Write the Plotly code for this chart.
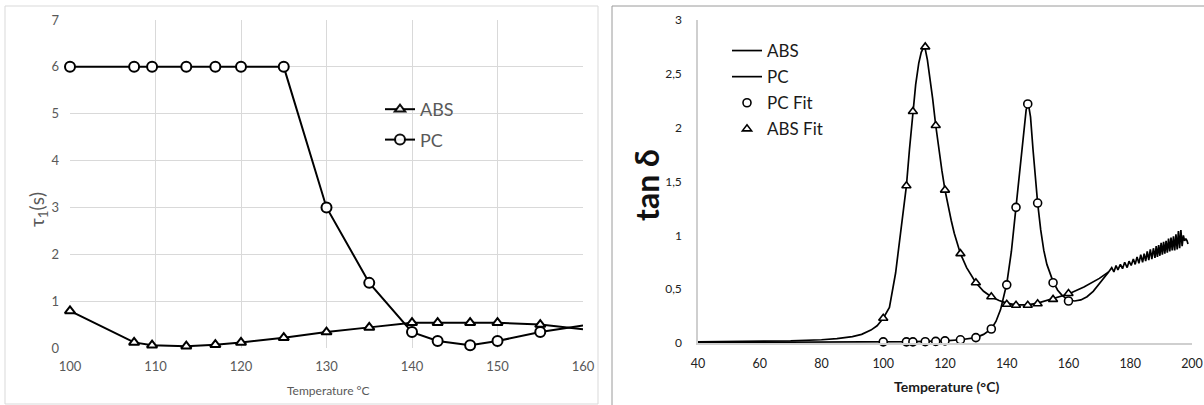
import plotly.graph_objects as go

W, H = 1204, 405

# ---------------- data ----------------
TEMPS = [100, 107.5, 109.6, 113.6, 117, 120, 125, 130, 135, 140, 143, 146.8, 150, 155, 160]

# left panel: relaxation time tau_1 (s)
ABS_TAU = [0.79, 0.12, 0.06, 0.04, 0.07, 0.12, 0.22, 0.34, 0.44, 0.54, 0.54, 0.54, 0.54, 0.50, 0.40]
PC_TAU = [6, 6, 6, 6, 6, 6, 6, 3.0, 1.39, 0.34, 0.15, 0.06, 0.15, 0.34, 0.48]

# right panel: measured tan delta curves
ABS_T = [40, 50, 60, 70, 80, 85, 90, 93, 96, 98, 100, 102, 104, 106, 107.5, 108.5, 109.6,
         110.5, 111.5, 112.3, 113, 113.6, 114.3, 115, 116, 117, 118, 119, 120, 121, 122,
         123, 124, 125, 127, 130, 132.5, 135, 137.5, 140, 143, 146.8, 150, 155, 160, 165,
         170]
ABS_TAN = [0.01, 0.012, 0.015, 0.02, 0.03, 0.04, 0.06, 0.08, 0.12, 0.16, 0.23, 0.33, 0.65,
           1.10, 1.46, 1.80, 2.15, 2.40, 2.60, 2.70, 2.74, 2.73, 2.63, 2.50, 2.27, 2.02, 1.80,
           1.60, 1.42, 1.27, 1.14, 1.02, 0.92, 0.83, 0.70, 0.56, 0.48, 0.43, 0.395, 0.37,
           0.355, 0.355, 0.37, 0.41, 0.455, 0.52, 0.60]

PC_T = [40, 60, 80, 100, 110, 120, 125, 130, 132.5, 135, 136.5, 138, 139, 140, 141.5, 143,
        144.5, 145.5, 146.3, 147, 147.7, 148.5, 149.3, 150, 151, 152, 153, 154, 155, 156.5,
        158, 160, 162, 164, 166, 168, 170, 171.5, 173]
PC_TAN = [0.005, 0.006, 0.008, 0.01, 0.012, 0.02, 0.03, 0.05, 0.08, 0.13, 0.20, 0.31, 0.42,
          0.55, 0.85, 1.26, 1.70, 2.00, 2.17, 2.22, 2.10, 1.80, 1.52, 1.30, 1.05, 0.86, 0.73,
          0.64, 0.57, 0.49, 0.44, 0.40, 0.39, 0.40, 0.43, 0.48, 0.55, 0.61, 0.66]

# merged, noisy high-temperature part of the measured curves
TAIL_T = [173, 174, 174.7, 175.4, 176, 176.8, 177.5, 178.2, 179, 179.6, 180.3, 181, 181.6,
          182.2, 182.8, 183.4, 184, 184.5, 185, 185.5, 186, 186.5, 187, 187.5, 188, 188.4,
          188.8, 189.2, 189.6, 190, 190.4, 190.8, 191.2, 191.6, 192, 192.4, 192.8, 193.2,
          193.6, 194, 194.4, 194.8, 195.2, 195.6, 196, 196.4, 196.8, 197.2, 197.6, 198,
          198.4, 198.7]
TAIL_TAN = [0.66, 0.70, 0.66, 0.72, 0.68, 0.73, 0.69, 0.75, 0.70, 0.76, 0.72, 0.78, 0.73,
            0.80, 0.74, 0.82, 0.75, 0.83, 0.76, 0.85, 0.77, 0.87, 0.78, 0.88, 0.79, 0.90,
            0.80, 0.91, 0.81, 0.93, 0.82, 0.94, 0.83, 0.95, 0.84, 0.97, 0.85, 0.98, 0.86,
            0.99, 0.86, 1.01, 0.87, 1.04, 0.88, 1.05, 0.90, 1.00, 0.95, 0.97, 0.95, 0.92]

# model fits at the same temperatures
ABS_FIT = [0.23, 1.46, 2.15, 2.75, 2.02, 1.42, 0.83, 0.56, 0.43, 0.36, 0.35, 0.35, 0.365, 0.405, 0.46]
PC_FIT = [0.01, 0.01, 0.01, 0.012, 0.015, 0.02, 0.03, 0.05, 0.13, 0.54, 1.26, 2.22, 1.30, 0.56, 0.39]

LEFT_XTICKS = [100, 110, 120, 130, 140, 150, 160]
LEFT_YTICKS = [0, 1, 2, 3, 4, 5, 6, 7]
RIGHT_XTICKS = [40, 60, 80, 100, 120, 140, 160, 180, 200]
RIGHT_YTICKS = [0, 0.5, 1, 1.5, 2, 2.5, 3]
RIGHT_YLABELS = ["0", "0,5", "1", "1,5", "2", "2,5", "3"]

# ---------------- helpers ----------------
def px_x(p):
    return p / W

def px_y(p):
    return (H - p) / H

FONT = "Lato"
GRAY = "#595959"

fig = go.Figure()

# left panel traces (last point has no visible marker)
left_op = [1] * (len(TEMPS) - 1) + [0]
fig.add_trace(go.Scatter(
    x=TEMPS, y=ABS_TAU, name="ABS", mode="lines+markers", xaxis="x", yaxis="y",
    line=dict(color="black", width=2),
    marker=dict(symbol="triangle-up", size=9, color="white", opacity=left_op,
                line=dict(color="black", width=2)),
    cliponaxis=False, legend="legend", legendgroup="a"))
fig.add_trace(go.Scatter(
    x=TEMPS, y=PC_TAU, name="PC", mode="lines+markers", xaxis="x", yaxis="y",
    line=dict(color="black", width=2),
    marker=dict(symbol="circle", size=10, color="white", opacity=left_op,
                line=dict(color="black", width=2)),
    cliponaxis=False, legend="legend", legendgroup="b"))

# right panel traces
fig.add_trace(go.Scatter(
    x=ABS_T + TAIL_T, y=ABS_TAN + TAIL_TAN, name="ABS", mode="lines",
    xaxis="x2", yaxis="y2", line=dict(color="black", width=1.7),
    legend="legend2", legendgroup="c"))
fig.add_trace(go.Scatter(
    x=PC_T, y=PC_TAN, name="PC", mode="lines",
    xaxis="x2", yaxis="y2", line=dict(color="black", width=1.7),
    legend="legend2", legendgroup="d"))
fig.add_trace(go.Scatter(
    x=TEMPS, y=PC_FIT, name="PC Fit", mode="markers", xaxis="x2", yaxis="y2",
    marker=dict(symbol="circle", size=8, color="white", line=dict(color="black", width=1.6)),
    cliponaxis=False, legend="legend2", legendgroup="e"))
fig.add_trace(go.Scatter(
    x=TEMPS, y=ABS_FIT, name="ABS Fit", mode="markers", xaxis="x2", yaxis="y2",
    marker=dict(symbol="triangle-up", size=8, color="white", line=dict(color="black", width=1.6)),
    cliponaxis=False, legend="legend2", legendgroup="f"))

fig.update_layout(
    template="none",
    width=W, height=H,
    margin=dict(l=0, r=0, t=0, b=0, pad=0, autoexpand=False),
    paper_bgcolor="white", plot_bgcolor="white",
    font=dict(family=FONT, color=GRAY),
    showlegend=True,
    xaxis=dict(domain=[px_x(70), px_x(583)], range=[100, 160], anchor="y", automargin=False,
               tickvals=LEFT_XTICKS, showgrid=True, gridcolor="#d9d9d9", gridwidth=1,
               zeroline=False, showline=False, ticks="",
               tickfont=dict(size=13, color=GRAY), ticklabelstandoff=9),
    yaxis=dict(domain=[px_y(348), px_y(20)], range=[0, 7], anchor="x", automargin=False,
               tickvals=LEFT_YTICKS, showgrid=True, gridcolor="#d9d9d9", gridwidth=1,
               zeroline=False, showline=False, ticks="",
               tickfont=dict(size=13, color=GRAY), ticklabelstandoff=10),
    xaxis2=dict(domain=[px_x(698), px_x(1192)], range=[40, 200], anchor="y2", automargin=False,
                tickvals=RIGHT_XTICKS, showgrid=False, zeroline=False,
                showline=True, linecolor="#cfcfcf", linewidth=1.5, ticks="",
                tickfont=dict(size=12.5, color="#222222"), ticklabelstandoff=8),
    yaxis2=dict(domain=[px_y(343), px_y(20)], range=[0, 3], anchor="x2", automargin=False,
                tickvals=RIGHT_YTICKS, ticktext=RIGHT_YLABELS, showgrid=False,
                zeroline=False, showline=True, linecolor="#cfcfcf", linewidth=1.5,
                ticks="", tickfont=dict(size=12, color="#222222"), ticklabelstandoff=12),
    legend=dict(x=px_x(380), y=px_y(91), xanchor="left", yanchor="top",
                bgcolor="rgba(0,0,0,0)", font=dict(size=18, color=GRAY, family=FONT),
                tracegroupgap=4, itemwidth=30),
    legend2=dict(x=px_x(727), y=px_y(33), xanchor="left", yanchor="top",
                 bgcolor="rgba(0,0,0,0)", font=dict(size=17, color="#1a1a1a", family=FONT),
                 tracegroupgap=1, itemwidth=30),
    shapes=[
        dict(type="rect", xref="paper", yref="paper",
             x0=px_x(5), x1=px_x(598), y0=px_y(404), y1=px_y(6),
             line=dict(color="#d9d9d9", width=1), fillcolor="rgba(0,0,0,0)", layer="below"),
        dict(type="rect", xref="paper", yref="paper",
             x0=px_x(612), x1=px_x(1215), y0=px_y(415), y1=px_y(6),
             line=dict(color="#9a9a9a", width=1), fillcolor="rgba(0,0,0,0)", layer="below"),
    ],
    annotations=[
        dict(text="τ<sub>1</sub>(s)", xref="paper", yref="paper", x=px_x(38), y=px_y(210),
             showarrow=False, textangle=-90, font=dict(size=19, color=GRAY, family=FONT),
             xanchor="center", yanchor="middle"),
        dict(text="Temperature °C", xref="paper", yref="paper", x=px_x(328), y=px_y(390),
             showarrow=False, font=dict(size=12, color=GRAY, family=FONT),
             xanchor="center", yanchor="middle"),
        dict(text="<b>tan δ</b>", xref="paper", yref="paper", x=px_x(646), y=px_y(185),
             showarrow=False, textangle=-90, font=dict(size=32, color="#111111", family=FONT),
             xanchor="center", yanchor="middle"),
        dict(text="<b>Temperature (°C)</b>", xref="paper", yref="paper", x=px_x(946),
             y=px_y(386), showarrow=False, font=dict(size=14, color="#1a1a1a", family=FONT),
             xanchor="center", yanchor="middle"),
    ],
)

# remove the browser's default page margin so the figure sits at the window origin
fig.write_html("out.html", config={"displayModeBar": False},
               post_script="document.body.style.margin='0px';")
